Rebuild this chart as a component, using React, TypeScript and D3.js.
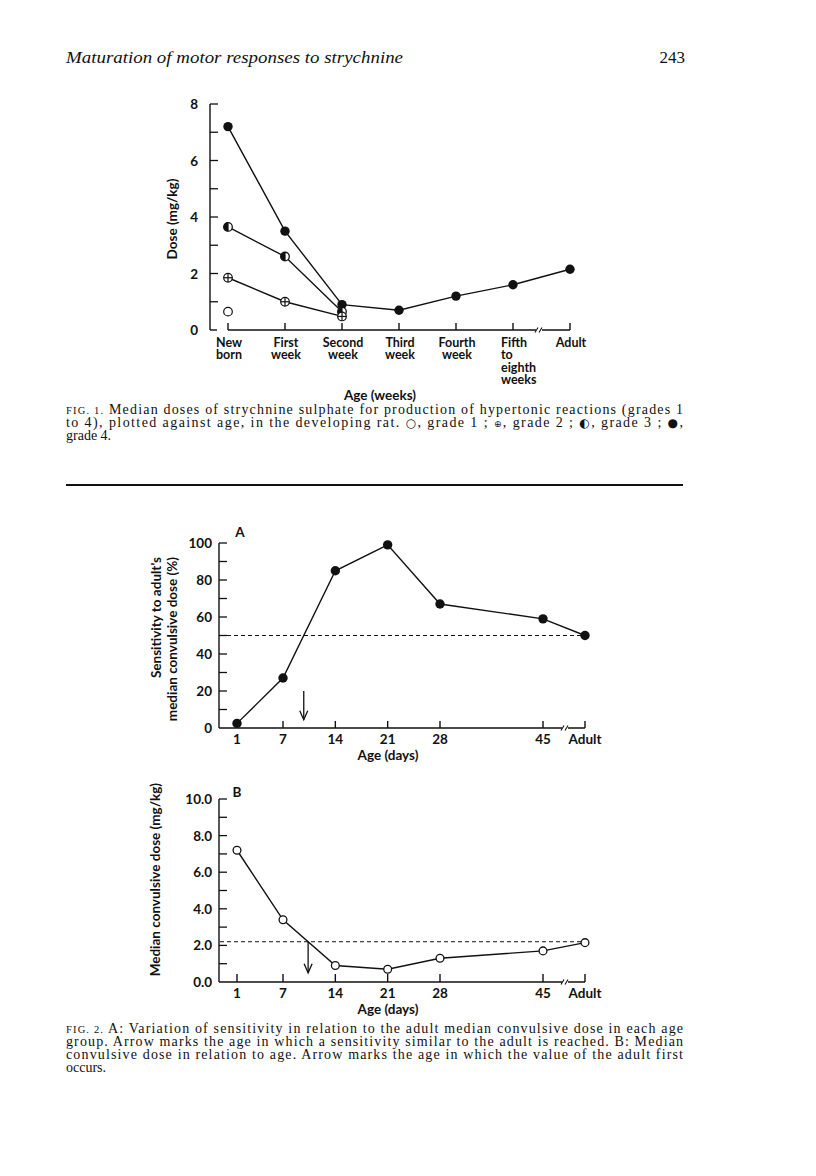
import React from 'react';
import * as d3 from 'd3';

// ---------- DATA ----------
const fig1Categories = ["New born", "First week", "Second week", "Third week", "Fourth week", "Fifth to eighth weeks", "Adult"];
const fig1Labels = [["New", "born"], ["First", "week"], ["Second", "week"], ["Third", "week"], ["Fourth", "week"], ["Fifth", "to", "eighth", "weeks"], ["Adult"]];
const grade4 = [7.2, 3.5, 0.9, 0.7, 1.2, 1.6, 2.15];
const grade3 = [3.65, 2.6, 0.65];
const grade2 = [1.85, 1.0, 0.48];
const grade1 = [0.65];
const fig1YTicks = [0, 2, 4, 6, 8];

const ageLabels = ["1", "7", "14", "21", "28", "45", "Adult"];
const ageDays = [1, 7, 14, 21, 28, 45];
const sensitivity = [2.5, 27, 85, 99, 67, 59, 50];
const adultSensitivityLevel = 50;
const convulsiveDose = [7.2, 3.4, 0.9, 0.7, 1.3, 1.7, 2.15];
const adultDoseLevel = 2.2;
const sensTicks = [0, 20, 40, 60, 80, 100];
const doseTicks = [0, 2, 4, 6, 8, 10];

const caption1: (string | { sym: string })[][] = [
  ["Median doses of strychnine sulphate for production of hypertonic reactions (grades 1"],
  ["to 4), plotted against age, in the developing rat.  ", { sym: "\u25CB" }, ", grade 1 ;  ", { sym: "\u2295" }, ", grade 2 ; ", { sym: "\u25D0" }, ", grade 3 ; ", { sym: "\u25CF" }, ","],
  ["grade 4."],
];
const caption2: (string | { sym: string })[][] = [
  ["A: Variation of sensitivity in relation to the adult median convulsive dose in each age"],
  ["group.  Arrow marks the age in which a sensitivity similar to the adult is reached.  B: Median"],
  ["convulsive dose in relation to age.  Arrow marks the age in which the value of the adult first"],
  ["occurs."],
];

// ---------- STYLE ----------
const SANS = "Lato, 'Open Sans', sans-serif";
const SERIF = "'Liberation Serif', 'Times New Roman', serif";
const INK = "#111";
const FS = 13.5;

// ---------- SCALES ----------
const x1 = d3.scalePoint<string>().domain(fig1Categories).range([228, 570]);
const y1 = d3.scaleLinear().domain([0, 8]).range([330, 104]);

const xDays = d3.scaleLinear().domain([1, 7, 28, 45]).range([237, 283, 440, 543]);
const xAdult = 585;
const xAge = (i: number) => (i < ageDays.length ? xDays(ageDays[i]) : xAdult);
const yA = d3.scaleLinear().domain([0, 100]).range([728, 543]);
const yB = d3.scaleLinear().domain([0, 10]).range([982, 799]);

function crossingX(values: number[], level: number) {
  for (let i = 0; i < values.length - 1; i++) {
    const a = values[i], b = values[i + 1];
    if ((a - level) * (b - level) <= 0 && a !== b) {
      const t = (a - level) / (a - b);
      return xAge(i) + (xAge(i + 1) - xAge(i)) * t;
    }
  }
  return xAge(0);
}

function BreakMark({ x, y }: { x: number; y: number }) {
  return (
    <g stroke={INK} strokeWidth={1.1}>
      <line x1={x - 3} y1={y} x2={x + 3} y2={y} stroke="#fff" strokeWidth={3} />
      <line x1={x - 4} y1={y + 2.5} x2={x - 1} y2={y - 2.5} />
      <line x1={x} y1={y + 2.5} x2={x + 3} y2={y - 2.5} />
    </g>
  );
}

function Arrow({ x, yTop, yBot }: { x: number; yTop: number; yBot: number }) {
  return (
    <g stroke={INK} strokeWidth={1.3} fill="none">
      <line x1={x} y1={yTop} x2={x} y2={yBot} />
      <polyline points={`${x - 4},${yBot - 9} ${x},${yBot} ${x + 4},${yBot - 9}`} />
    </g>
  );
}

const T = (p: any) => <text fontFamily={SANS} fontWeight={700} fontSize={FS} fill={INK} {...p} />;

function Fig1() {
  const line = d3.line<number>().x((_, i) => x1(fig1Categories[i])!).y((d) => y1(d));
  const axisX = 210;
  const r = 4.3;
  return (
    <g>
      <line x1={axisX} y1={y1(8)} x2={axisX} y2={y1(0)} stroke={INK} strokeWidth={1.4} />
      <line x1={axisX} y1={y1(0)} x2={axisX + 7} y2={y1(0)} stroke={INK} strokeWidth={1.4} />
      {d3.range(1, 9, 1).map((t) => (
        <line key={t} x1={axisX} x2={axisX + 8} y1={y1(t)} y2={y1(t)} stroke={INK} strokeWidth={1.3} />
      ))}
      {fig1YTicks.map((t) => (
        <T key={t} x={axisX - 12} y={y1(t) + 5} textAnchor="end">{t}</T>
      ))}
      <T transform={`translate(177,${(y1(0) + y1(8)) / 2 + 2}) rotate(-90)`} textAnchor="middle">Dose (mg/kg)</T>

      <line x1={x1(fig1Categories[0])!} x2={x1(fig1Categories[6])!} y1={y1(0)} y2={y1(0)} stroke={INK} strokeWidth={1.4} />
      {fig1Categories.map((c) => (
        <line key={c} x1={x1(c)!} x2={x1(c)!} y1={y1(0)} y2={y1(0) - 7} stroke={INK} strokeWidth={1.4} />
      ))}
      <BreakMark x={x1(fig1Categories[5])! + 26} y={y1(0)} />
      {fig1Labels.map((lines, i) => {
        const cx = x1(fig1Categories[i])!;
        const left = lines.length > 2;
        return (
          <text key={i} fontFamily={SANS} fontWeight={700} fontSize={12.5} fill={INK} textAnchor={left ? "start" : "middle"}>
            {lines.map((l, j) => (
              <tspan key={j} x={left ? cx - 12 : cx + 1} y={347 + j * 12.3}>{l}</tspan>
            ))}
          </text>
        );
      })}
      <T x={380} y={400} textAnchor="middle">Age (weeks)</T>

      <path d={line(grade4)!} fill="none" stroke={INK} strokeWidth={1.4} />
      <path d={line(grade3)!} fill="none" stroke={INK} strokeWidth={1.4} />
      <path d={line(grade2)!} fill="none" stroke={INK} strokeWidth={1.4} />

      {grade4.map((v, i) => (
        <circle key={"g4" + i} cx={x1(fig1Categories[i])!} cy={y1(v)} r={4.7} fill={INK} />
      ))}
      {grade3.map((v, i) => {
        const cx = x1(fig1Categories[i])!, cy = y1(v);
        return (
          <g key={"g3" + i}>
            <circle cx={cx} cy={cy} r={r} fill="#fff" stroke={INK} strokeWidth={1.3} />
            <line x1={cx} x2={cx} y1={cy - r} y2={cy + r} stroke={INK} strokeWidth={1.2} />
            <path d={`M${cx},${cy - r} A${r},${r} 0 0 0 ${cx},${cy + r} Z`} fill={INK} />
          </g>
        );
      })}
      {grade2.map((v, i) => {
        const cx = x1(fig1Categories[i])!, cy = y1(v);
        return (
          <g key={"g2" + i} stroke={INK} strokeWidth={1.2}>
            <circle cx={cx} cy={cy} r={r} fill="#fff" />
            <line x1={cx - r} x2={cx + r} y1={cy} y2={cy} />
            <line x1={cx} x2={cx} y1={cy - r} y2={cy + r} />
          </g>
        );
      })}
      {grade1.map((v, i) => (
        <circle key={"g1" + i} cx={x1(fig1Categories[i])!} cy={y1(v)} r={r} fill="#fff" stroke={INK} strokeWidth={1.2} />
      ))}
    </g>
  );
}

function Fig2A() {
  const axisX = 219;
  const line = d3.line<number>().x((_, i) => xAge(i)).y((d) => yA(d));
  const arrowX = crossingX(sensitivity, adultSensitivityLevel);
  return (
    <g>
      <line x1={axisX} y1={yA(100)} x2={axisX} y2={yA(0)} stroke={INK} strokeWidth={1.4} />
      {d3.range(10, 101, 10).map((t) => (
        <line key={t} x1={axisX} x2={axisX + 8} y1={yA(t)} y2={yA(t)} stroke={INK} strokeWidth={1.3} />
      ))}
      {sensTicks.map((t) => (
        <T key={t} x={212} y={yA(t) + 5} textAnchor="end">{t}</T>
      ))}
      <T x={240} y={537} textAnchor="middle">A</T>
      <T transform={`translate(161,557) rotate(-90)`} textAnchor="end">Sensitivity to adult's</T>
      <T transform={`translate(177,557) rotate(-90)`} textAnchor="end">median convulsive dose (%)</T>

      <line x1={axisX} x2={xAdult} y1={yA(0)} y2={yA(0)} stroke={INK} strokeWidth={1.4} />
      {ageLabels.map((l, i) => (
        <g key={l}>
          <line x1={xAge(i)} x2={xAge(i)} y1={yA(0)} y2={yA(0) - 7} stroke={INK} strokeWidth={1.4} />
          <T x={xAge(i)} y={744} textAnchor="middle">{l}</T>
        </g>
      ))}
      <BreakMark x={(xAge(5) + xAdult) / 2 + 1} y={yA(0)} />
      <T x={388} y={760} textAnchor="middle">Age (days)</T>

      <line x1={axisX + 1} x2={xAdult} y1={yA(adultSensitivityLevel)} y2={yA(adultSensitivityLevel)} stroke={INK} strokeWidth={1} strokeDasharray="4,3" />
      <path d={line(sensitivity)!} fill="none" stroke={INK} strokeWidth={1.4} />
      {sensitivity.map((v, i) => (
        <circle key={i} cx={xAge(i)} cy={yA(v)} r={4.7} fill={INK} />
      ))}
      <Arrow x={arrowX} yTop={yA(20)} yBot={yA(4.5)} />
    </g>
  );
}

function Fig2B() {
  const axisX = 219;
  const line = d3.line<number>().x((_, i) => xAge(i)).y((d) => yB(d));
  const arrowX = crossingX(convulsiveDose, adultDoseLevel);
  return (
    <g>
      <line x1={axisX} y1={yB(10)} x2={axisX} y2={yB(0)} stroke={INK} strokeWidth={1.4} />
      {d3.range(1, 11, 1).map((t) => (
        <line key={t} x1={axisX} x2={axisX + 8} y1={yB(t)} y2={yB(t)} stroke={INK} strokeWidth={1.3} />
      ))}
      {doseTicks.map((t) => (
        <T key={t} x={212} y={yB(t) + 5} textAnchor="end">{t.toFixed(1)}</T>
      ))}
      <T x={237} y={797} textAnchor="middle">B</T>
      <T transform={`translate(160,783) rotate(-90)`} textAnchor="end">Median convulsive dose (mg/kg)</T>

      <line x1={axisX} x2={xAdult} y1={yB(0)} y2={yB(0)} stroke={INK} strokeWidth={1.4} />
      {ageLabels.map((l, i) => (
        <g key={l}>
          <line x1={xAge(i)} x2={xAge(i)} y1={yB(0)} y2={yB(0) - 8} stroke={INK} strokeWidth={1.4} />
          <T x={xAge(i)} y={998} textAnchor="middle">{l}</T>
        </g>
      ))}
      <BreakMark x={(xAge(5) + xAdult) / 2 + 1} y={yB(0)} />
      <T x={388} y={1014} textAnchor="middle">Age (days)</T>

      <line x1={axisX + 1} x2={xAdult} y1={yB(adultDoseLevel)} y2={yB(adultDoseLevel)} stroke={INK} strokeWidth={1} strokeDasharray="4,3" />
      <path d={line(convulsiveDose)!} fill="none" stroke={INK} strokeWidth={1.4} />
      {convulsiveDose.map((v, i) => (
        <circle key={i} cx={xAge(i)} cy={yB(v)} r={3.9} fill="#fff" stroke={INK} strokeWidth={1.3} />
      ))}
      <Arrow x={arrowX} yTop={yB(adultDoseLevel)} yBot={yB(0.5)} />
    </g>
  );
}

function Caption({ label, lines, y0 }: { label: string; lines: (string | { sym: string })[][]; y0: number }) {
  return (
    <g fontFamily={SERIF} fontSize={14} fill={INK}>
      {lines.map((parts, i) => {
        const justify = i < lines.length - 1;
        return (
          <text key={i} x={66} y={y0 + i * 12.9} textLength={justify ? 617 : undefined} lengthAdjust="spacing">
            {i === 0 ? <tspan fontSize={10.5}>{label}</tspan> : null}
            {i === 0 ? "  " : null}
            {parts.map((p, k) =>
              typeof p === "string" ? (
                <tspan key={k}>{p}</tspan>
              ) : (
                <tspan key={k} fontFamily="'DejaVu Sans', sans-serif" fontSize={p.sym === "\u2295" ? 9 : 12}>{p.sym}</tspan>
              )
            )}
          </text>
        );
      })}
    </g>
  );
}

export default function App() {
  return (
    <svg width={816} height={1176} viewBox="0 0 816 1176" style={{ position: 'absolute', left: 0, top: 0, display: 'block', background: '#fff' }}>
      <rect width={816} height={1176} fill="#fff" />
      <text x={66} y={63} fontFamily={SERIF} fontStyle="italic" fontSize={17.5} textLength={337} lengthAdjust="spacingAndGlyphs" fill={INK}>Maturation of motor responses to strychnine</text>
      <text x={685} y={63} textAnchor="end" fontFamily={SERIF} fontSize={17} fill={INK}>243</text>

      <Fig1 />
      <Caption label="FIG. 1." lines={caption1} y0={414} />
      <line x1={66} x2={683} y1={485} y2={485} stroke={INK} strokeWidth={1.8} />

      <Fig2A />
      <Fig2B />
      <Caption label="FIG. 2." lines={caption2} y0={1033} />
    </svg>
  );
}
